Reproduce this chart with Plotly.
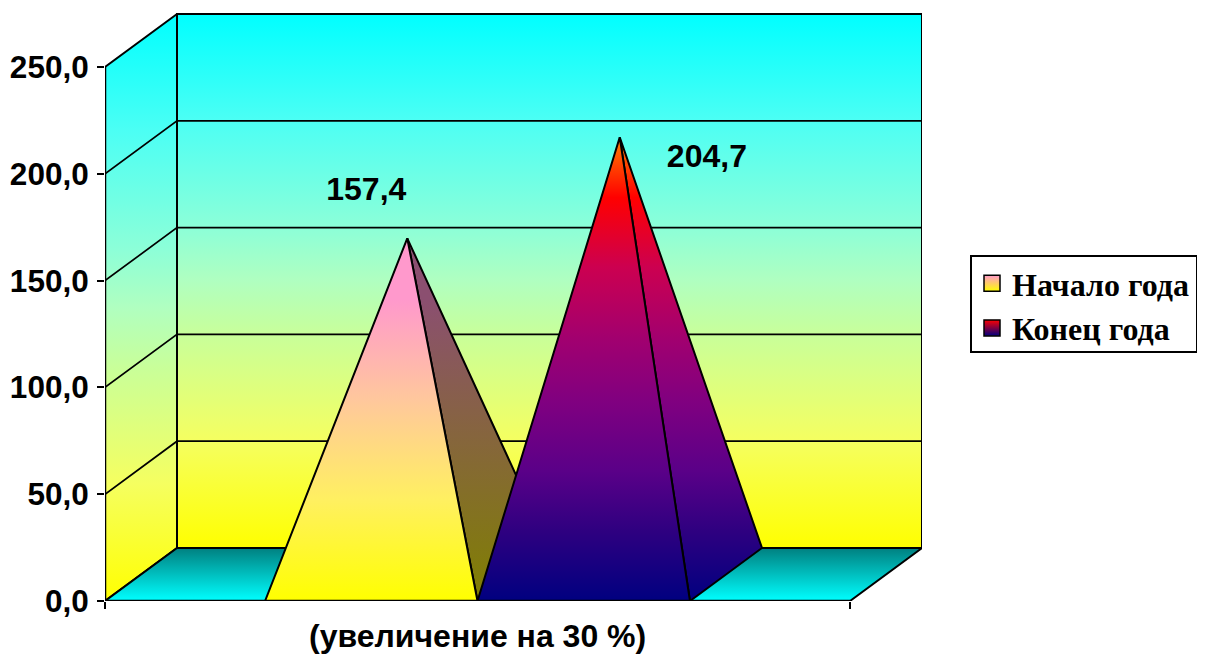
import plotly.graph_objects as go

# --- data ---
categories = ["Начало года", "Конец года"]
values = [157.4, 204.7]
label_texts = ["157,4", "204,7"]
y_ticks = [0, 50, 100, 150, 200, 250]
y_tick_labels = ["0,0", "50,0", "100,0", "150,0", "200,0", "250,0"]
axis_title = "(увеличение на 30 %)"
bar_share = 0.2852       # width of a pyramid as a share of the axis
edge_gap = 0.2148        # empty share on each side
label_offsets = [(-0.055, 21.6), (0.117, -10.0)]

# --- colours ---
WALL = [[0, "#FFFF00"], [0.2, "#F5FF60"], [0.4, "#C8FF9A"], [0.5, "#B0FFC0"],
        [0.6, "#8CFFD8"], [0.8, "#4CFFF4"], [1, "#00FFFF"]]
FLOOR = [[0, "#00FFFF"], [1, "#008080"]]
FRONT = [
    [[0, "#FFFF00"], [0.277, "#FFF060"], [0.552, "#FFC89C"], [0.83, "#FF99CC"], [1, "#FF99CC"]],
    [[0, "#000080"], [0.15, "#2E0080"], [0.28, "#5A0088"], [0.43, "#800080"],
     [0.56, "#A00070"], [0.72, "#CC0050"], [0.87, "#FF0000"], [1, "#FF8000"]],
]
SIDE = [
    [[0, "#808000"], [0.83, "#8B4F70"], [1, "#8B4F70"]],
    [[0, "#000080"], [0.15, "#2E0080"], [0.28, "#5A0088"], [0.43, "#800080"],
     [0.56, "#A00070"], [0.72, "#CC0050"], [0.87, "#FF0000"], [1, "#FF8000"]],
]
LEGEND_TOP = ["#FF99CC", "#FF0000"]
LEGEND_BOTTOM = ["#FFFF00", "#000080"]

# --- oblique projection: shift of the back plane, in axis units ---
DX = 72 / 745
DY = 53 / 2.136
YTOP = 276.7

# the page has an 8 px body margin, so the figure is laid out from there
PAGE = 8
FIG_W, FIG_H = 1205 - PAGE, 655 - PAGE


def pt(u, v, d=0.0):
    return u + DX * d, v + DY * d


def poly(points):
    pts = [pt(*p) for p in points]
    pts.append(pts[0])
    return [p[0] for p in pts], [p[1] for p in pts]


LW = 2
fig = go.Figure()


def face(points, scale, start=None, stop=None, lw=LW):
    x, y = poly(points)
    fig.add_trace(go.Scatter(
        x=x, y=y, mode="lines", fill="toself",
        fillgradient=dict(type="vertical", colorscale=scale,
                          start=min(y) if start is None else start,
                          stop=max(y) if stop is None else stop),
        line=dict(color="black", width=lw),
        showlegend=False, hoverinfo="skip", cliponaxis=False,
    ))


vmax = y_ticks[-1]
# left wall, back wall, floor
face([(0, 0, 0), (0, vmax, 0), (0, vmax, 1), (0, 0, 1)], WALL)
face([(0, 0, 1), (0, vmax, 1), (1, vmax, 1), (1, 0, 1)], WALL)
face([(0, 0, 0), (1, 0, 0), (1, 0, 1), (0, 0, 1)], FLOOR)

# gridlines
gx, gy = [], []
for t in y_ticks[1:-1]:
    a, b, c = pt(0, t, 0), pt(0, t, 1), pt(1, t, 1)
    gx += [a[0], b[0], c[0], None]
    gy += [a[1], b[1], c[1], None]
fig.add_trace(go.Scatter(x=gx, y=gy, mode="lines", line=dict(color="black", width=1.7),
                         showlegend=False, hoverinfo="skip", cliponaxis=False))

# pyramids
for i, val in enumerate(values):
    left = edge_gap + i * bar_share
    right = left + bar_share
    mid = (left + right) / 2
    apex = (mid, val, 0.5)
    apex_v = pt(*apex)[1]
    face([(right, 0, 0), apex, (right, 0, 1)], SIDE[i], start=0, stop=apex_v)
    face([(left, 0, 0), apex, (right, 0, 0)], FRONT[i], start=0, stop=apex_v)

# front axis line
fig.add_trace(go.Scatter(x=[0, 0, 1], y=[vmax, 0, 0], mode="lines",
                         line=dict(color="black", width=2.5),
                         showlegend=False, hoverinfo="skip", cliponaxis=False))

# value labels
for i, val in enumerate(values):
    mid = edge_gap + (i + 0.5) * bar_share
    ax, ay = pt(mid, val, 0.5)
    fig.add_trace(go.Scatter(
        x=[ax + label_offsets[i][0]], y=[ay + label_offsets[i][1]],
        mode="text", text=[label_texts[i]], textposition="middle center",
        textfont=dict(family="Liberation Sans", size=32, color="black", weight="bold"),
        showlegend=False, hoverinfo="skip", cliponaxis=False,
    ))

# legend entries
for i, name in enumerate(categories):
    fig.add_trace(go.Scatter(
        x=[None], y=[None], mode="markers", name=name,
        marker=dict(symbol="square", size=16, color=LEGEND_TOP[i],
                    gradient=dict(type="vertical", color=LEGEND_BOTTOM[i]),
                    line=dict(color="black", width=1.5)),
    ))

fig.add_annotation(
    x=0.5, xref="x", y=0, yref="paper", yshift=-35, yanchor="middle", showarrow=False,
    text=axis_title, font=dict(family="Liberation Sans", size=32, color="black", weight="bold"),
)

# legend frame
fig.add_shape(type="rect", xref="paper", yref="paper", layer="above",
              x0=(971 - 105) / (922 - 105), x1=(1197 - 105) / (922 - 105),
              y0=(601 - 352) / (601 - 10), y1=(601 - 256) / (601 - 10),
              line=dict(color="black", width=2), fillcolor="rgba(255,255,255,1)")

fig.update_xaxes(range=[0, 1 + DX], tickvals=[0, 1], ticktext=["", ""], ticks="outside",
                 ticklen=7, tickwidth=2, tickcolor="black", showgrid=False, zeroline=False,
                 showline=False, fixedrange=True)
fig.update_yaxes(range=[0, YTOP], tickvals=y_ticks, ticktext=y_tick_labels, ticks="outside",
                 ticklen=7, tickwidth=2, tickcolor="black", showgrid=False, zeroline=False,
                 showline=False, fixedrange=True, ticklabelstandoff=2,
                 tickfont=dict(family="Liberation Sans", size=31.5, color="black", weight="bold"))
fig.update_layout(
    width=FIG_W, height=FIG_H, autosize=False,
    margin=dict(l=105 - PAGE, r=FIG_W - (922 - PAGE), t=10 - PAGE, b=54, pad=0),
    paper_bgcolor="white", plot_bgcolor="white",
    legend=dict(x=(972 - PAGE) / FIG_W, y=1 - (256 - PAGE) / FIG_H, xref="container", yref="container",
                xanchor="left", yanchor="top",
                bgcolor="rgba(0,0,0,0)", borderwidth=0,
                font=dict(family="Liberation Serif", size=32, color="black", weight="bold"),
                itemsizing="trace"),
)

fig.write_html("out.html")
